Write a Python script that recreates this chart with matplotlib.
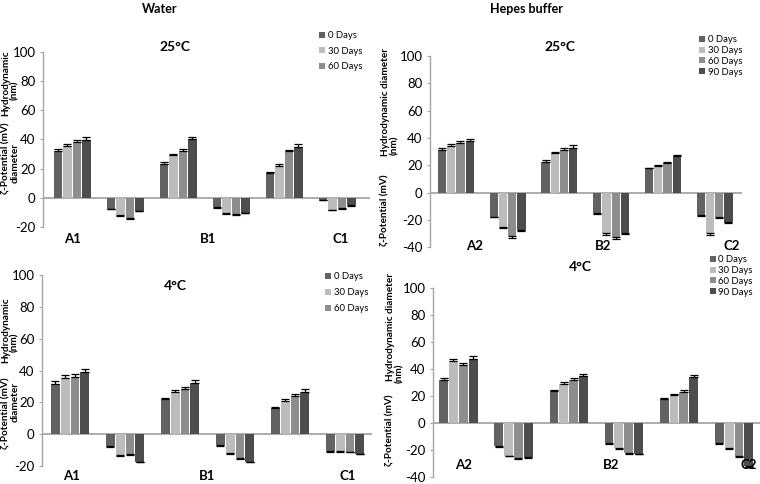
import matplotlib
matplotlib.use("Agg")
import matplotlib.pyplot as plt
import matplotlib.transforms as mtransforms
import numpy as np

plt.rcParams['font.family'] = ['Lato', 'DejaVu Sans']
plt.rcParams['axes.unicode_minus'] = False

# Datos (columnas: A+, A-, B+, B-, C+, C-)
days_labels = ['0 Days', '30 Days', '60 Days', '90 Days']
colors = ['#626262', '#bcbcbc', '#8d8d8d', '#4d4d4d']

water25_d0 = [32, -7.5, 23, -6.5, 17, -1.3]
water25_d30 = [35.5, -11.8, 29, -10.6, 22, -8.2]
water25_d60 = [38, -13.6, 32, -11.0, 32, -7.2]
water25_d90 = [39.5, -8.8, 40, -10.2, 35, -5.2]
water25_err = [[1.5, 0.5, 1.2, 0.5, 0.6, 0.3],
               [1.5, 0.5, 1.3, 0.5, 1.0, 0.5],
               [1.8, 0.6, 1.3, 0.5, 1.0, 0.5],
               [2.0, 0.5, 1.6, 0.5, 1.8, 0.4]]

hepes25_d0 = [31.2, -17.6, 22.7, -15, 17.8, -16.3]
hepes25_d30 = [34, -25.4, 28.8, -29.8, 19.5, -29.8]
hepes25_d60 = [36.6, -32, 31.2, -32.7, 21.5, -17.6]
hepes25_d90 = [37.8, -27.3, 33, -29.3, 26.8, -21.7]
hepes25_err = [[1.2, 0.5, 1.2, 0.5, 0.5, 0.5],
               [1.8, 0.6, 1.0, 1.0, 0.8, 1.0],
               [1.5, 1.0, 1.2, 1.0, 1.2, 0.6],
               [1.8, 0.8, 1.8, 0.8, 0.8, 0.6]]

water4_d0 = [31.5, -7.5, 22, -6.8, 16.3, -10.5]
water4_d30 = [35.5, -13.2, 26.7, -11.8, 21, -10.8]
water4_d60 = [36.2, -12.3, 28.5, -14.8, 23.8, -11]
water4_d90 = [39, -17.2, 32, -17.2, 26.5, -12.2]
water4_err = [[2.0, 0.4, 1.0, 0.4, 0.5, 0.4],
              [1.6, 0.5, 1.0, 0.6, 1.0, 0.4],
              [1.8, 0.5, 1.2, 0.6, 1.2, 0.4],
              [2.0, 0.5, 1.8, 0.6, 1.6, 0.4]]

hepes4_d0 = [32, -17.2, 23.6, -15, 18, -15.2]
hepes4_d30 = [45.5, -24.2, 29, -18.8, 21, -18.8]
hepes4_d60 = [42.5, -25.8, 32, -22.5, 23, -24.5]
hepes4_d90 = [47.4, -25.3, 34.4, -22.8, 34, -31.5]
hepes4_err = [[1.2, 0.5, 1.0, 0.4, 0.5, 0.6],
              [1.8, 0.6, 1.2, 0.6, 0.6, 0.6],
              [2.0, 0.8, 1.5, 0.8, 1.0, 0.8],
              [2.0, 0.8, 1.8, 0.5, 1.8, 0.8]]

W, H = 760, 484


def fx(x):
    return x / W


def fy(y):
    return 1 - y / H


fig = plt.figure(figsize=(W / 100, H / 100), dpi=100)


def panel(rect_px, ylim, xlim, series, errs, ylabels, title, title_xy,
          groups, group_x, group_y, nleg, leg_xy, leg_space):
    x0, x1, ytop, ybot = rect_px
    ax = fig.add_axes([fx(x0), fy(ybot), (x1 - x0) / W, (ybot - ytop) / H])
    cats = np.arange(len(series[0]))
    step, width = 0.178, 0.16
    handles = []
    for i, vals in enumerate(series):
        vals = np.array(vals, dtype=float)
        e = np.array(errs[i], dtype=float)
        lower = np.where(vals < 0, e, 0)
        upper = np.where(vals >= 0, e, 0)
        b = ax.bar(cats + (i - 1.5) * step, vals, width, color=colors[i],
                   yerr=[lower, upper], zorder=2,
                   error_kw=dict(ecolor='black', elinewidth=0.9, capsize=2.6, capthick=0.9))
        handles.append(b)
    ax.axhline(0, color='#a6a6a6', lw=1.3, zorder=1)
    ax.set_ylim(*ylim)
    ax.set_xlim(*xlim)
    ax.set_yticks(np.arange(ylim[0], ylim[1] + 1, 20))
    ax.set_xticks([])
    for s in ['top', 'right', 'bottom']:
        ax.spines[s].set_visible(False)
    ax.spines['left'].set_color('#a6a6a6')
    ax.spines['left'].set_linewidth(1.0)
    ax.tick_params(axis='y', length=2.5, color='#a6a6a6', labelsize=9.5, pad=3)
    ax.patch.set_alpha(0)

    fig.text(fx(title_xy[0]), fy(title_xy[1]), title, ha='center', va='center',
             fontsize=10, fontweight='bold')

    tr = mtransforms.blended_transform_factory(ax.transData, fig.transFigure)
    for g, gx in zip(groups, group_x):
        ax.text(gx, fy(group_y), g, transform=tr, ha='center', va='center',
                fontsize=9.5, fontweight='bold', clip_on=False)

    for txt, lx, ly in ylabels:
        fig.text(fx(lx), fy(ly), txt, rotation=90, ha='center', va='center',
                 fontsize=7.2, fontweight='bold')

    fig.legend(handles[:nleg], days_labels[:nleg], loc='upper left',
               bbox_to_anchor=(fx(leg_xy[0]), fy(leg_xy[1])), frameon=False,
               fontsize=6.8, handlelength=0.6, handleheight=0.6,
               handletextpad=0.3, borderpad=0, borderaxespad=0,
               labelspacing=leg_space)
    return ax


# Encabezados
fig.text(fx(160), fy(9), 'Water', ha='center', va='center', fontsize=9, fontweight='bold')
fig.text(fx(527), fy(9), 'Hepes buffer', ha='center', va='center', fontsize=9, fontweight='bold')

panel((43, 370, 51.7, 227), (-20, 100), (-0.55, 5.62),
      [water25_d0, water25_d30, water25_d60, water25_d90], water25_err,
      [('ζ-Potential (mV)', 6, 158), ('Hydrodynamic', 6, 83),
       ('diameter', 15, 163), ('(nm)', 15, 90)],
      '25°C', (175, 47), ['A1', 'B1', 'C1'], [0, 2.57, 5.06], 239,
      3, (319, 31), 0.7)

panel((430, 742, 56, 247.3), (-40, 100), (-0.5, 5.53),
      [hepes25_d0, hepes25_d30, hepes25_d60, hepes25_d90], hepes25_err,
      [('Hydrodynamic diameter', 385, 102), ('(nm)', 395, 145),
       ('ζ-Potential (mV)', 385, 210)],
      '25°C', (560, 47), ['A2', 'B2', 'C2'], [0.37, 2.84, 5.34], 246,
      4, (699, 35), 0.2)

panel((42, 372, 275, 466), (-20, 100), (-0.51, 5.49),
      [water4_d0, water4_d30, water4_d60, water4_d90], water4_err,
      [('Hydrodynamic', 6, 330), ('ζ-Potential (mV)', 6, 413),
       ('(nm)', 15, 342), ('diameter', 15, 402)],
      '4°C', (175, 286), ['A1', 'B1', 'C1'], [0.03, 2.5, 5.05], 476,
      3, (325, 272), 0.75)

panel((433, 760, 287.7, 477), (-40, 100), (-0.46, 5.47),
      [hepes4_d0, hepes4_d30, hepes4_d60, hepes4_d90], hepes4_err,
      [('Hydrodynamic diameter', 390, 327), ('(nm)', 400, 373),
       ('ζ-Potential (mV)', 390, 430)],
      '4°C', (580, 267), ['A2', 'B2', 'C2'], [0.09, 2.77, 5.27], 465,
      4, (710, 255), 0.2)

fig.savefig('out.png', dpi=100)
